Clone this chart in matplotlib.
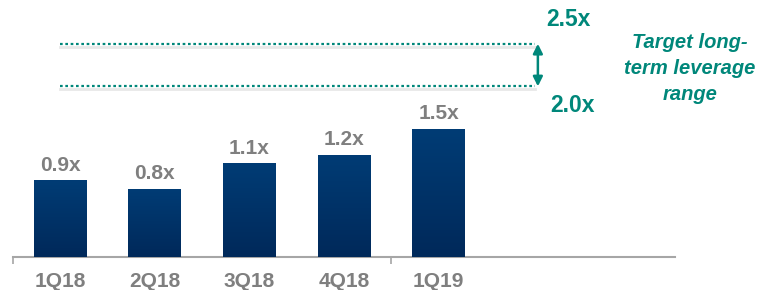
import numpy as np
import matplotlib.pyplot as plt
from matplotlib.colors import LinearSegmentedColormap

quarters = ['1Q18', '2Q18', '3Q18', '4Q18', '1Q19']
leverage = [0.9, 0.8, 1.1, 1.2, 1.5]
target_low = 2.0
target_high = 2.5

navy = '#00316A'
teal = '#00877A'
grey = '#7F7F7F'

plt.rcParams['font.family'] = ['Liberation Sans', 'DejaVu Sans']

fig = plt.figure(figsize=(7.61, 2.90), dpi=100)
# axis line spans x 13..675 px, baseline at y=257 px
ax = fig.add_axes([13 / 761, 33 / 290, 662 / 761, 257 / 290])

x = list(range(len(quarters)))
bars = ax.bar(x, leverage, width=0.56, color=navy, zorder=3)

# vertical gradient on the bars
cmap = LinearSegmentedColormap.from_list('bar', ['#00295A', '#003C75'])
grad = np.linspace(0, 1, 100).reshape(-1, 1)
for b in bars:
    x0, w, h = b.get_x(), b.get_width(), b.get_height()
    im = ax.imshow(grad, cmap=cmap, origin='lower', aspect='auto',
                   extent=(x0, x0 + w, 0, h), zorder=3.5)
    im.set_clip_path(b)

for b, v in zip(bars, leverage):
    ax.annotate('{:.1f}x'.format(v), (b.get_x() + b.get_width() / 2, v),
                xytext=(0, 4), textcoords='offset points', ha='center', va='bottom',
                fontsize=15, fontweight='bold', color=grey)

# target range
for y in (target_low, target_high):
    ax.plot([0, 5.02], [y - 0.035, y - 0.035], color='#E8E8E8', lw=2, zorder=1)
    ax.plot([0, 5.02], [y, y], color=teal, lw=1.6, dashes=(1.2, 1.2),
            dash_capstyle='butt', zorder=2)
ax.annotate('', xy=(5.05, target_high), xytext=(5.05, target_low),
            arrowprops=dict(arrowstyle='<|-|>', color=teal, lw=1.8, mutation_scale=14,
                            shrinkA=0, shrinkB=0))
ax.text(5.37, 2.78, '{:.1f}x'.format(target_high), ha='center', va='center',
        fontsize=16.5, fontweight='bold', color=teal)
ax.text(5.42, 1.78, '{:.1f}x'.format(target_low), ha='center', va='center',
        fontsize=16.5, fontweight='bold', color=teal)
ax.text(6.66, 2.21, 'Target long-\nterm leverage\nrange', ha='center', va='center',
        fontsize=14.5, fontweight='bold', fontstyle='italic', color=teal, linespacing=1.45)

ax.set_xlim(-0.5, 6.5)
ax.set_ylim(0, 257 / 85.3)
for s in ('top', 'right', 'left'):
    ax.spines[s].set_visible(False)
ax.spines['bottom'].set_color('#A6A6A6')
ax.spines['bottom'].set_linewidth(1.5)
ax.set_yticks([])
ax.set_xticks([-0.5, 3.5])
ax.tick_params(axis='x', length=5, width=1.2, color='#A6A6A6', labelbottom=False)
for xi, q in zip(x, quarters):
    ax.text(xi, -0.29, q, ha='center', va='center', fontsize=15,
            fontweight='bold', color=grey)

fig.savefig('out.png', dpi=100)
